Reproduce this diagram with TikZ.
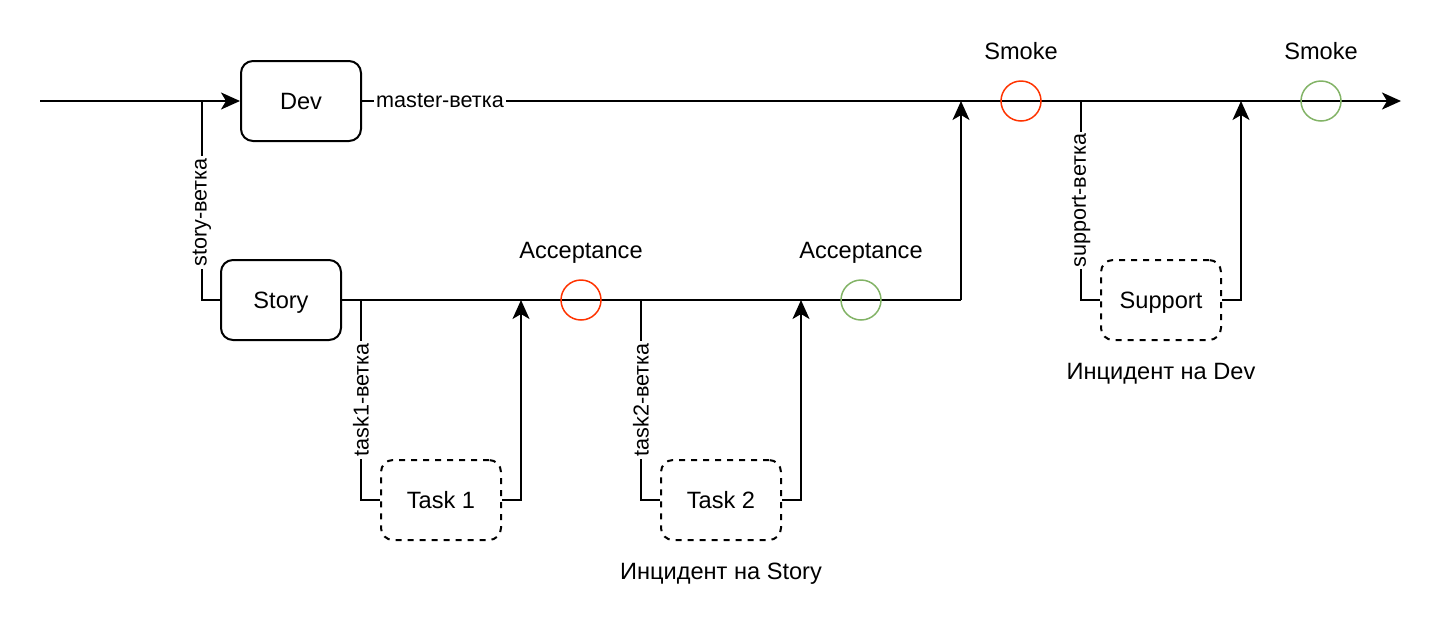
\documentclass[tikz,border=0pt]{standalone}
\usepackage{fontspec}
\setmainfont{Liberation Sans}
\usepackage{tikz}
\usetikzlibrary{arrows.meta, positioning}
\definecolor{failred}{HTML}{FF3300}
\definecolor{passgreen}{HTML}{82B366}
\tikzstyle{arrow} = [line width=1pt,-{Stealth[length=9.5pt,width=8.5pt,inset=2.5pt]}]
\tikzstyle{line} = [line width=1pt]
\tikzstyle{branch} = [line width=0.65pt]
\tikzstyle{env} = [draw, line width=1pt, rounded corners=6pt, minimum width=60pt, minimum height=40pt, text depth=0pt, font=\fontsize{11.8}{14}\selectfont]
\tikzstyle{task} = [env, dash pattern=on 3pt off 3pt]
\tikzstyle{check} = [draw, circle, line width=0.75pt, minimum size=20pt, inner sep=0pt]
\tikzstyle{lbl} = [font=\fontsize{10.8}{13}\selectfont, fill=white, inner sep=1pt]
\tikzstyle{txt} = [font=\fontsize{11.8}{14}\selectfont, inner sep=0pt]

\begin{document}
\begin{tikzpicture}[x=0.5pt,y=-0.5pt]
\useasboundingbox (0,0) rectangle (1444,622);

% boxes
\node[env] (dev) at (301,101) {Dev};
\node[env] (story) at (281,300) {Story};
\node[task] (task1) at (441,500) {Task 1};
\node[task] (task2) at (721,500) {Task 2};
\node[task] (support) at (1161,300) {Support};

% points on the branches
\coordinate (in) at (40,101);
\coordinate (out) at (1401,101);
\coordinate (sfork) at (202,101);
\coordinate (sjoin) at (961,101);
\coordinate (supfork) at (1081,101);
\coordinate (supjoin) at (1241,101);
\coordinate (t1fork) at (361,300);
\coordinate (t1join) at (521,300);
\coordinate (t2fork) at (641,300);
\coordinate (t2join) at (801,300);
\coordinate (send) at (961,300);

% master
\draw[arrow] (in) -- (dev);
\draw[arrow] (dev) -- (out);
\node[lbl] (master) at (440,101) {master-ветка};

% story
\draw[line] (story) -- (send);
\draw[arrow] (send) -- (sjoin);

% forks
\draw[branch] (sfork) |- (story) node[lbl, rotate=90, pos=0.28] (slbl) {story-ветка};
\draw[branch] (t1fork) |- (task1) node[lbl, rotate=90, pos=0.25] (t1lbl) {task1-ветка};
\draw[branch] (t2fork) |- (task2) node[lbl, rotate=90, pos=0.25] (t2lbl) {task2-ветка};
\draw[branch] (supfork) |- (support) node[lbl, rotate=90, pos=0.25] (suplbl) {support-ветка};

% merges
\draw[arrow] (task1) -| (t1join);
\draw[arrow] (task2) -| (t2join);
\draw[arrow] (support) -| (supjoin);

% checks
\foreach \name/\x/\y/\c/\t in {acc1/581/300/failred/Acceptance, acc2/861/300/passgreen/Acceptance, smoke1/1021/101/failred/Smoke, smoke2/1321/101/passgreen/Smoke}
{
\node[check, draw=\c] (\name) at (\x,\y) {};
\node[txt, anchor=base] (\name-t) at (\x,\y-42) {\t};
}

\node[txt, below=19pt of task2, anchor=base] (inc1) {Инцидент на Story};
\node[txt, below=19pt of support, anchor=base] (inc2) {Инцидент на Dev};
\end{tikzpicture}
\end{document}
